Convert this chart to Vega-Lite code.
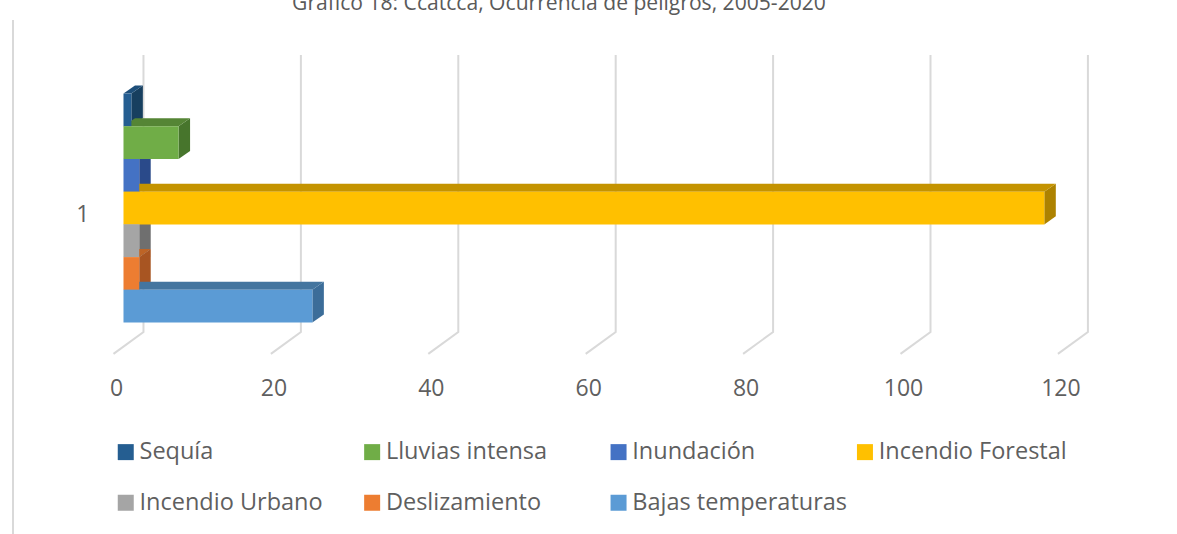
{
"$schema":"https://vega.github.io/schema/vega-lite/v6.json",
"width":1082,"height":375,
"autosize":{"type":"none"},
"padding":{"left":95,"top":0,"right":0,"bottom":159},
"background":"white",
"title":{"text":"Gráfico 18: Ccatcca, Ocurrencia de peligros, 2005-2020","anchor":"middle","dx":-77,"offset":-14,"fontSize":21.1,"fontWeight":"normal","color":"#5a5a5a","font":"Open Sans"},
"config":{"view":{"stroke":null},"font":"Open Sans"},
"datasets":{
"barras":[
{"peligro":"Sequía","k0":6,"k1":7,"valor":1},
{"peligro":"Lluvias intensa","k0":5,"k1":6,"valor":7},
{"peligro":"Inundación","k0":4,"k1":5,"valor":2},
{"peligro":"Incendio Forestal","k0":3,"k1":4,"valor":117},
{"peligro":"Incendio Urbano","k0":2,"k1":3,"valor":2},
{"peligro":"Deslizamiento","k0":1,"k1":2,"valor":2},
{"peligro":"Bajas temperaturas","k0":0,"k1":1,"valor":24}
],
"superior":[
{"peligro":"Sequía","y":7,"xa":0,"xb":1},{"peligro":"Sequía","y":7.245,"xa":1.46,"xb":2.46},
{"peligro":"Lluvias intensa","y":6,"xa":0,"xb":7},{"peligro":"Lluvias intensa","y":6.245,"xa":1.46,"xb":8.46},
{"peligro":"Inundación","y":5,"xa":0,"xb":2},{"peligro":"Inundación","y":5.245,"xa":1.46,"xb":3.46},
{"peligro":"Incendio Forestal","y":4,"xa":0,"xb":117},{"peligro":"Incendio Forestal","y":4.245,"xa":1.46,"xb":118.46},
{"peligro":"Incendio Urbano","y":3,"xa":0,"xb":2},{"peligro":"Incendio Urbano","y":3.245,"xa":1.46,"xb":3.46},
{"peligro":"Deslizamiento","y":2,"xa":0,"xb":2},{"peligro":"Deslizamiento","y":2.245,"xa":1.46,"xb":3.46},
{"peligro":"Bajas temperaturas","y":1,"xa":0,"xb":24},{"peligro":"Bajas temperaturas","y":1.245,"xa":1.46,"xb":25.46}
],
"lateral":[
{"peligro":"Sequía","x":1,"ya":6,"yb":7},{"peligro":"Sequía","x":2.46,"ya":6.245,"yb":7.245},
{"peligro":"Lluvias intensa","x":7,"ya":5,"yb":6},{"peligro":"Lluvias intensa","x":8.46,"ya":5.245,"yb":6.245},
{"peligro":"Inundación","x":2,"ya":4,"yb":5},{"peligro":"Inundación","x":3.46,"ya":4.245,"yb":5.245},
{"peligro":"Incendio Forestal","x":117,"ya":3,"yb":4},{"peligro":"Incendio Forestal","x":118.46,"ya":3.245,"yb":4.245},
{"peligro":"Incendio Urbano","x":2,"ya":2,"yb":3},{"peligro":"Incendio Urbano","x":3.46,"ya":2.245,"yb":3.245},
{"peligro":"Deslizamiento","x":2,"ya":1,"yb":2},{"peligro":"Deslizamiento","x":3.46,"ya":1.245,"yb":2.245},
{"peligro":"Bajas temperaturas","x":24,"ya":0,"yb":1},{"peligro":"Bajas temperaturas","x":25.46,"ya":0.245,"yb":1.245}
],
"rejilla":[
{"v":0,"o":1,"x":2.54,"y":8.18},{"v":0,"o":2,"x":2.54,"y":-0.29},{"v":0,"o":3,"x":-1.27,"y":-0.96},
{"v":20,"o":1,"x":22.54,"y":8.18},{"v":20,"o":2,"x":22.54,"y":-0.29},{"v":20,"o":3,"x":18.73,"y":-0.96},
{"v":40,"o":1,"x":42.54,"y":8.18},{"v":40,"o":2,"x":42.54,"y":-0.29},{"v":40,"o":3,"x":38.73,"y":-0.96},
{"v":60,"o":1,"x":62.54,"y":8.18},{"v":60,"o":2,"x":62.54,"y":-0.29},{"v":60,"o":3,"x":58.73,"y":-0.96},
{"v":80,"o":1,"x":82.54,"y":8.18},{"v":80,"o":2,"x":82.54,"y":-0.29},{"v":80,"o":3,"x":78.73,"y":-0.96},
{"v":100,"o":1,"x":102.54,"y":8.18},{"v":100,"o":2,"x":102.54,"y":-0.29},{"v":100,"o":3,"x":98.73,"y":-0.96},
{"v":120,"o":1,"x":122.54,"y":8.18},{"v":120,"o":2,"x":122.54,"y":-0.29},{"v":120,"o":3,"x":118.73,"y":-0.96}
],
"marco":[{"x":-14.04,"y":9.25,"y2":-6.47}]
},
"resolve":{"scale":{"color":"independent"}},
"layer":[
{"data":{"name":"marco"},"mark":{"type":"rule","color":"#d9d9d9","strokeWidth":2},
"encoding":{"x":{"field":"x","type":"quantitative","scale":{"domain":[-3.62,133.86],"nice":false,"zero":false},
"axis":{"values":[0,20,40,60,80,100,120],"title":null,"grid":false,"domain":false,"ticks":false,"labelOffset":-7.5,"labelFontSize":23,"labelColor":"#5f5f5f","labelFont":"Open Sans","labelPadding":2}},
"y":{"field":"y","type":"quantitative","scale":{"domain":[-1.606,9.862],"nice":false,"zero":false},
"axis":{"values":[3.29],"labelExpr":"'1'","title":null,"grid":false,"domain":false,"ticks":false,"labelFontSize":23,"labelColor":"#5f5f5f","labelFont":"Open Sans","labelPadding":6}},"y2":{"field":"y2"}}},
{"data":{"name":"rejilla"},"mark":{"type":"line","color":"#d9d9d9","strokeWidth":2},
"encoding":{"x":{"field":"x","type":"quantitative","title":null,"scale":{"domain":[-3.62,133.86],"nice":false,"zero":false}},
"y":{"field":"y","type":"quantitative","title":null,"scale":{"domain":[-1.606,9.862],"nice":false,"zero":false}},
"detail":{"field":"v"},"order":{"field":"o"}}},
{"data":{"name":"lateral"},"mark":{"type":"area","orient":"vertical"},
"encoding":{"x":{"field":"x","type":"quantitative","title":null,"scale":{"domain":[-3.62,133.86],"nice":false,"zero":false}},
"y":{"field":"ya","type":"quantitative","title":null,"scale":{"domain":[-1.606,9.862],"nice":false,"zero":false},"stack":null},"y2":{"field":"yb"},
"color":{"field":"peligro","type":"nominal","legend":null,"scale":{"domain":["Sequía","Lluvias intensa","Inundación","Incendio Forestal","Incendio Urbano","Deslizamiento","Bajas temperaturas"],"range":["#173F5F","#47752C","#2A4A8A","#AD8200","#6F6F6F","#A85522","#3C6D99"]}}}},
{"data":{"name":"superior"},"mark":{"type":"area","orient":"horizontal"},
"encoding":{"y":{"field":"y","type":"quantitative","title":null,"scale":{"domain":[-1.606,9.862],"nice":false,"zero":false}},
"x":{"field":"xa","type":"quantitative","title":null,"scale":{"domain":[-3.62,133.86],"nice":false,"zero":false},"stack":null},"x2":{"field":"xb"},
"color":{"field":"peligro","type":"nominal","legend":null,"scale":{"domain":["Sequía","Lluvias intensa","Inundación","Incendio Forestal","Incendio Urbano","Deslizamiento","Bajas temperaturas"],"range":["#1E4F7A","#558535","#335DA8","#C49300","#808080","#BD6426","#44759F"]}}}},
{"data":{"name":"barras"},"mark":{"type":"rect"},
"encoding":{"x":{"field":"valor","type":"quantitative","title":null,"scale":{"domain":[-3.62,133.86],"nice":false,"zero":false}},
"x2":{"datum":0},
"y":{"field":"k0","type":"quantitative","title":null,"scale":{"domain":[-1.606,9.862],"nice":false,"zero":false}},
"y2":{"field":"k1"},
"color":{"field":"peligro","type":"nominal","scale":{"domain":["Sequía","Lluvias intensa","Inundación","Incendio Forestal","Incendio Urbano","Deslizamiento","Bajas temperaturas"],"range":["#255E91","#70AD47","#4472C4","#FFC000","#A5A5A5","#ED7D31","#5B9BD5"]},
"legend":{"title":null,"orient":"none","direction":"horizontal","legendX":19,"legendY":440,"columns":4,"gridAlign":"all","columnPadding":5.4,"rowPadding":26,"symbolType":"square","symbolSize":256,"symbolStrokeWidth":0,"labelFontSize":23.5,"labelColor":"#5f5f5f","labelFont":"Open Sans","labelOffset":2,"labelLimit":400}}}}
]
}
